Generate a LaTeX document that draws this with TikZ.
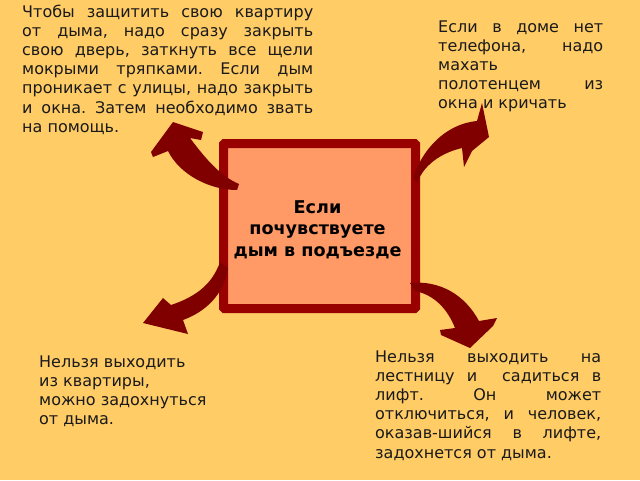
\documentclass[tikz,border=0pt]{standalone}
\usepackage{fontspec}
\setmainfont{DejaVu Sans}
\frenchspacing
\definecolor{bg}{HTML}{FFCC66}
\definecolor{boxfill}{HTML}{FF9966}
\definecolor{boxline}{HTML}{990000}
\definecolor{arr}{HTML}{800000}
\definecolor{ink}{HTML}{1A1A1A}
\begin{document}
\begin{tikzpicture}[x=1pt,y=-1pt,
  blocktext/.style={anchor=base west, inner sep=0pt, text=ink, font=\fontsize{16}{19.2}\selectfont},
  bigarrow/.style={fill=arr, draw=none},
  centerbox/.style={draw=boxline, fill=boxfill, line width=9pt, rounded corners=1pt,
    minimum width=192pt, minimum height=165pt, inner sep=0pt},
  centertext/.style={anchor=base, inner sep=0pt, text=black,
    font=\bfseries\fontsize{17.6}{21.5}\selectfont}]
\fill[bg] (0,0) rectangle (640,480);
\useasboundingbox (0,0) rectangle (640,480);

\node[blocktext] (tl) at (22,17) {\parbox[t]{291pt}{%
\makebox[\linewidth][s]{Чтобы защитить свою квартиру}\\
\makebox[\linewidth][s]{от дыма, надо сразу закрыть}\\
\makebox[\linewidth][s]{свою дверь, заткнуть все щели}\\
\makebox[\linewidth][s]{мокрыми тряпками. Если дым}\\
\makebox[\linewidth][s]{проникает с улицы, надо закрыть}\\
\makebox[\linewidth][s]{и окна. Затем необходимо звать}\\
на помощь.}};

\node[blocktext] (tr) at (438,32) {\parbox[t]{165pt}{%
\makebox[\linewidth][s]{Если в доме нет}\\
\makebox[\linewidth][s]{телефона, надо}\\
махать\\
\makebox[\linewidth][s]{полотенцем из}\\
окна и кричать}};

\node[blocktext] (br) at (375,362) {\parbox[t]{226pt}{%
\makebox[\linewidth][s]{Нельзя выходить на}\\
\makebox[\linewidth][s]{лестницу и\ \ садиться в}\\
\makebox[\linewidth][s]{лифт. Он может}\\
\makebox[\linewidth][s]{отключиться, и человек,}\\
\makebox[\linewidth][s]{оказав-шийся в лифте,}\\
задохнется от дыма.}};

\node[blocktext] (bl) at (39,367) {\parbox[t]{200pt}{%
Нельзя выходить\\
из квартиры,\\
можно задохнуться\\
от дыма.}};

\node[centerbox] (box) at (319.5,226) {};
\node[centertext] (boxlabel) at (317.5,213) {\parbox[t]{190pt}{\centering
Если\\почувствуете\\дым в подъезде}};

% top-left arrow
\fill[bigarrow] (173,122) -- (203,132) -- (201,140) -- (190,138)
  .. controls (205,158) and (220,176) .. (239,184) -- (237,190)
  .. controls (210,190) and (180,175) .. (168,151) -- (153,157) -- (151,152) -- cycle;
% top-right arrow
\fill[bigarrow] (413,178) .. controls (422,150) and (445,124) .. (477,121)
  -- (482,103) -- (489,137) -- (472,151) -- (464,167) -- (462,148)
  .. controls (445,152) and (425,162) .. (417,183) -- cycle;
% bottom-left arrow
\fill[bigarrow] (220,262) -- (228,268) .. controls (224,295) and (205,312) .. (183,320)
  -- (188,334) -- (143,323) -- (163,298) -- (171,305)
  .. controls (195,297) and (212,285) .. (220,262) -- cycle;
% bottom-right arrow
\fill[bigarrow] (410,283) .. controls (440,280) and (465,295) .. (479,321)
  -- (497,318) -- (493,326) -- (470,348) -- (441,335) -- (440,330) -- (455,328)
  .. controls (448,310) and (435,295) .. (415,291) -- cycle;
\end{tikzpicture}
\end{document}
